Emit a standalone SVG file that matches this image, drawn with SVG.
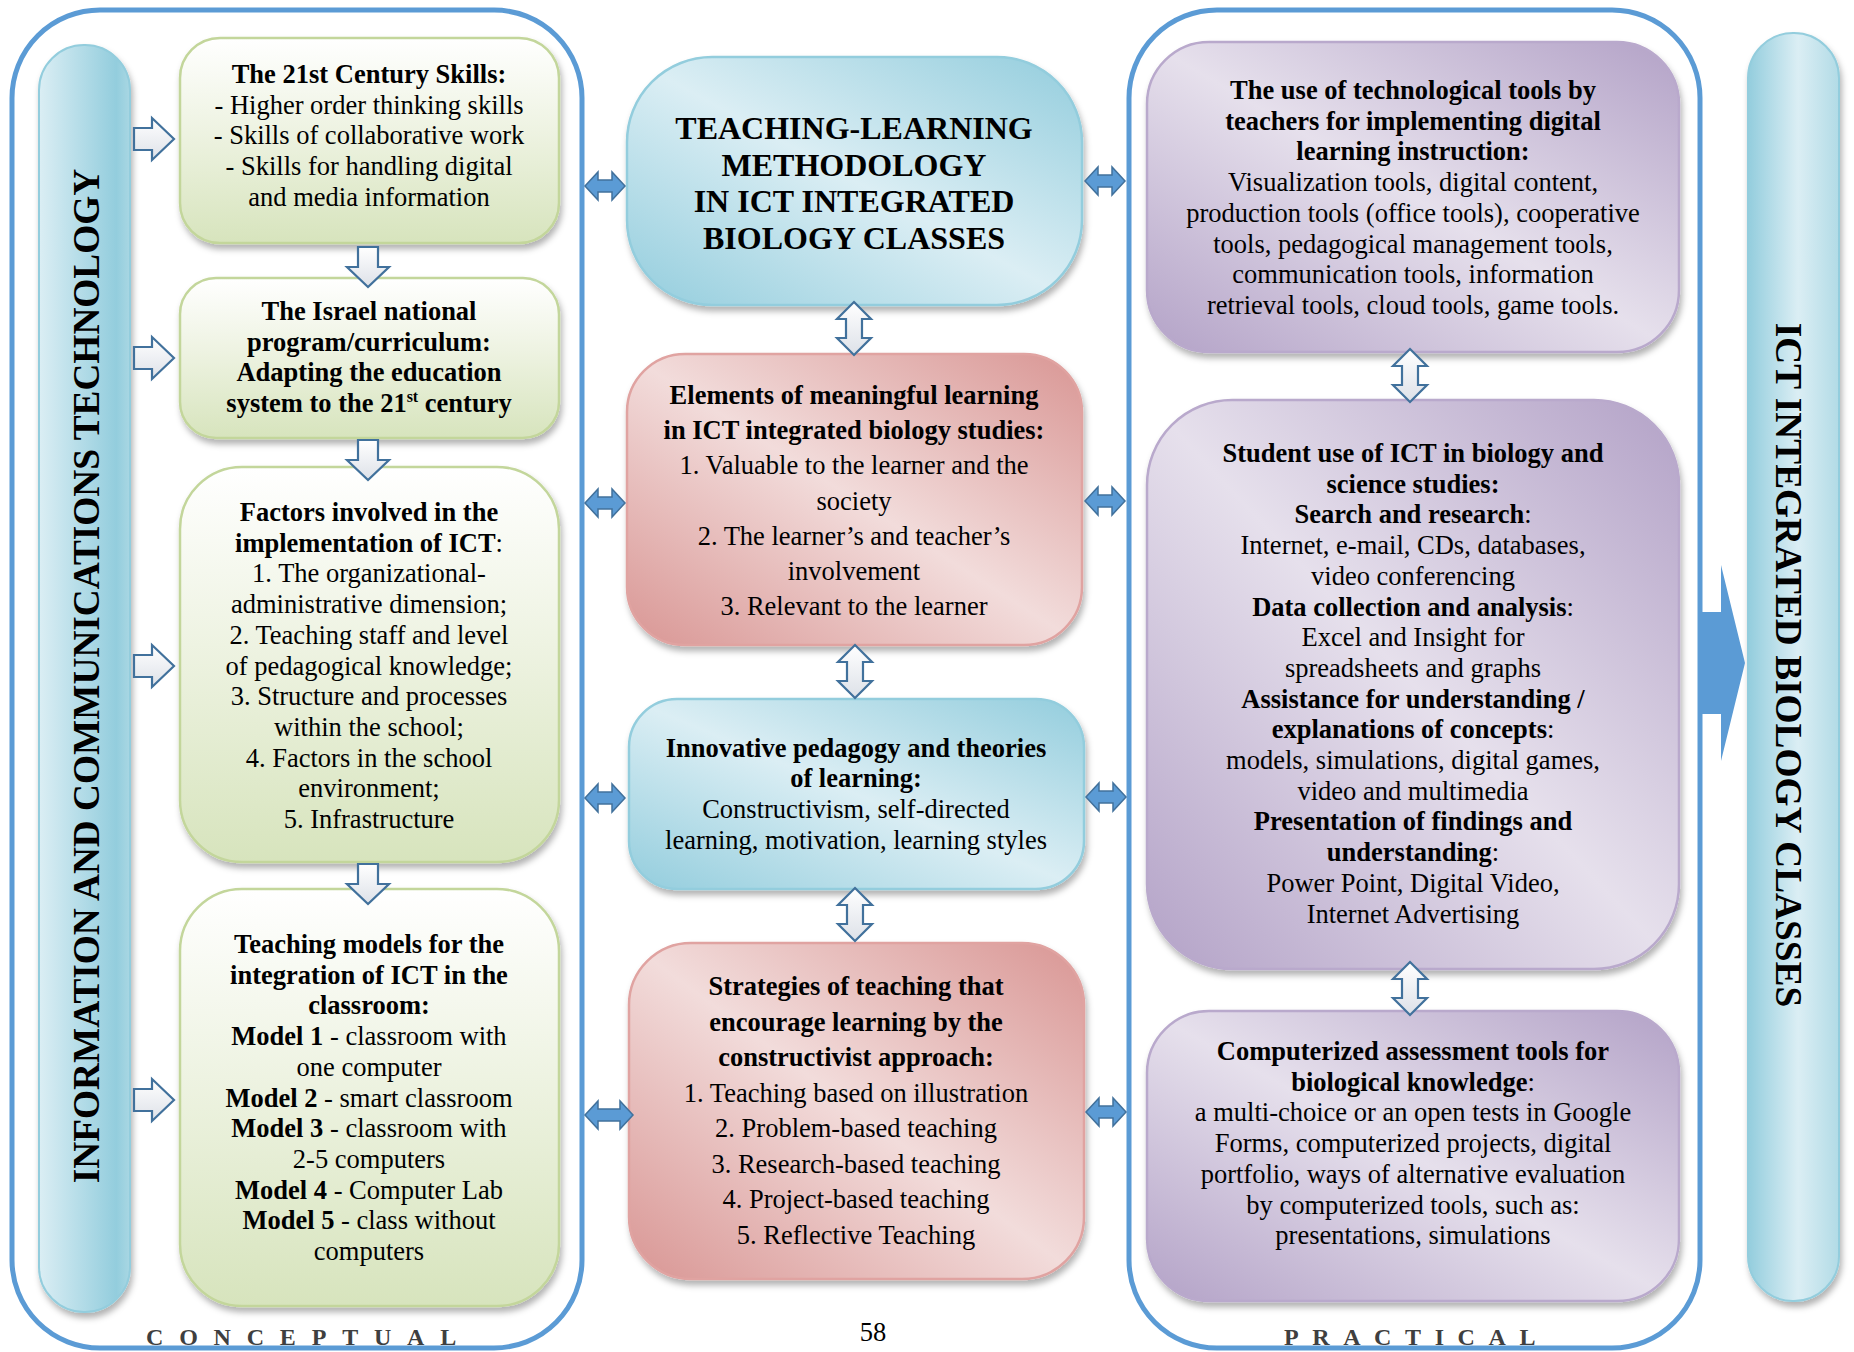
<svg xmlns="http://www.w3.org/2000/svg" width="1854" height="1352" viewBox="0 0 1854 1352">
<defs>
<style>
.t{font-family:'Liberation Serif','Times New Roman',serif;font-size:26.5px;fill:#000;text-anchor:middle}
.b{font-weight:bold}
.n{font-weight:normal}
.big{font-size:32px}
.vert{font-size:37.3px}
.sup{font-size:16px}
.cont{fill:none;stroke:#5b9bd5;stroke-width:5}
.green{fill:url(#gGreen);stroke:#c3d69b;stroke-width:2.5;filter:url(#sh)}
.blue{fill:url(#gBlue);stroke:#93cddd;stroke-width:2.5;filter:url(#sh)}
.red{fill:url(#gRed);stroke:#e0a3a1;stroke-width:2.5;filter:url(#sh)}
.purple{fill:url(#gPurple);stroke:#b9a9cc;stroke-width:2.5;filter:url(#sh)}
.hollow{fill:url(#gHollow);stroke:#41719c;stroke-width:2.2;stroke-linejoin:miter}
.solid{fill:#5b9bd5;stroke:#41719c;stroke-width:1.5}
.spaced{font-family:'Liberation Serif','Times New Roman',serif;font-size:24px;font-weight:bold;fill:#3f3f3f}
</style>
<filter id="sh" x="-10%" y="-10%" width="120%" height="125%">
<feDropShadow dx="2" dy="5" stdDeviation="3" flood-color="#000" flood-opacity="0.3"/>
</filter>
<linearGradient id="gGreen" x1="0" y1="0" x2="0" y2="1">
<stop offset="0" stop-color="#ffffff"/><stop offset="0.45" stop-color="#eef3e2"/><stop offset="1" stop-color="#d7e4bd"/>
</linearGradient>
<linearGradient id="gBlue" x1="1" y1="0" x2="0" y2="1">
<stop offset="0" stop-color="#93cddd"/><stop offset="0.5" stop-color="#dbeef4"/><stop offset="1" stop-color="#93cddd"/>
</linearGradient>
<linearGradient id="gRed" x1="1" y1="0" x2="0" y2="1">
<stop offset="0" stop-color="#d99694"/><stop offset="0.5" stop-color="#f2dcdb"/><stop offset="1" stop-color="#d99694"/>
</linearGradient>
<linearGradient id="gPurple" x1="1" y1="0" x2="0" y2="1">
<stop offset="0" stop-color="#b3a2c7"/><stop offset="0.5" stop-color="#e6e0ec"/><stop offset="1" stop-color="#b3a2c7"/>
</linearGradient>
<linearGradient id="gBarL" x1="0" y1="0" x2="1" y2="0">
<stop offset="0" stop-color="#dbeef4"/><stop offset="0.85" stop-color="#93cddd"/><stop offset="1" stop-color="#a9d7e3"/>
</linearGradient>
<linearGradient id="gBarR" x1="0" y1="0" x2="1" y2="0">
<stop offset="0" stop-color="#93cddd"/><stop offset="0.55" stop-color="#dbeef4"/><stop offset="1" stop-color="#b2dbe6"/>
</linearGradient>
<linearGradient id="gHollow" x1="0" y1="0" x2="0" y2="1">
<stop offset="0" stop-color="#ffffff"/><stop offset="1" stop-color="#dde1e8"/>
</linearGradient>
<polygon id="arrRight" points="0,-11 18,-11 18,-21 40,0 18,21 18,11 0,11"/>
<polygon id="arrDown" points="-10,0 10,0 10,20 21,20 0,40 -21,20 -10,20"/>
<polygon id="arrUpDown" points="0,0 17,17 8,17 8,36 17,36 0,53 -17,36 -8,36 -8,17 -17,17"/>
<polygon id="arrLR" points="0,0 13,-14 13,-6 27,-6 27,-14 40,0 27,14 27,6 13,6 13,14"/>
</defs>
<rect width="1854" height="1352" fill="#ffffff"/>

<g id="containers">
<rect id="conceptual-frame" class="cont" x="12" y="10" width="570" height="1338" rx="88"/>
<rect id="practical-frame" class="cont" x="1129" y="10" width="571" height="1338" rx="88"/>
<text class="spaced" x="146" y="1345" letter-spacing="15.8">CONCEPTUAL</text>
<text class="spaced" x="1284" y="1345" letter-spacing="13.6">PRACTICAL</text>
</g>

<g id="bar-ict">
<rect x="39" y="45" width="91" height="1267" rx="45" fill="url(#gBarL)" stroke="#93cddd" stroke-width="2" filter="url(#sh)"/>
<text class="t b vert" transform="translate(99,676) rotate(-90)" x="0" y="0">INFORMATION AND COMMUNICATIONS TECHNOLOGY</text>
</g>

<g id="bar-biology">
<rect x="1748" y="33" width="91" height="1268" rx="45" fill="url(#gBarR)" stroke="#93cddd" stroke-width="2" filter="url(#sh)"/>
<text class="t b vert" transform="translate(1776,665) rotate(90)" x="0" y="0">ICT INTEGRATED BIOLOGY CLASSES</text>
</g>

<g id="skills21">
<rect class="green" x="180" y="38" width="379" height="205" rx="40"/>
<text class="t b" x="369" y="83">The 21st Century Skills:</text>
<text class="t" x="369" y="113.7">- Higher order thinking skills</text>
<text class="t" x="369" y="144.4">- Skills of collaborative work</text>
<text class="t" x="369" y="175.1">- Skills for handling digital</text>
<text class="t" x="369" y="205.8">and media information</text>
</g>

<g id="israel-program">
<rect class="green" x="180" y="278" width="379" height="160" rx="36"/>
<text class="t b" x="369" y="320">The Israel national</text>
<text class="t b" x="369" y="350.7">program/curriculum:</text>
<text class="t b" x="369" y="381.4">Adapting the education</text>
<text class="t b" x="369" y="412.1">system to the 21<tspan class="sup" dy="-10">st</tspan><tspan dy="10"> century</tspan></text>
</g>

<g id="factors">
<rect class="green" x="180" y="467" width="379" height="395" rx="62"/>
<text class="t b" x="369" y="521">Factors involved in the</text>
<text class="t b" x="369" y="551.7">implementation of ICT<tspan class="n">:</tspan></text>
<text class="t" x="369" y="582.4">1. The organizational-</text>
<text class="t" x="369" y="613.1">administrative dimension;</text>
<text class="t" x="369" y="643.8">2. Teaching staff and level</text>
<text class="t" x="369" y="674.5">of pedagogical knowledge;</text>
<text class="t" x="369" y="705.2">3. Structure and processes</text>
<text class="t" x="369" y="735.9">within the school;</text>
<text class="t" x="369" y="766.6">4. Factors in the school</text>
<text class="t" x="369" y="797.3">environment;</text>
<text class="t" x="369" y="828">5. Infrastructure</text>
</g>

<g id="teaching-models">
<rect class="green" x="180" y="889" width="379" height="417" rx="62"/>
<text class="t b" x="369" y="953">Teaching models for the</text>
<text class="t b" x="369" y="983.7">integration of ICT in the</text>
<text class="t b" x="369" y="1014.4">classroom:</text>
<text class="t" x="369" y="1045.1"><tspan class="b">Model 1</tspan> - classroom with</text>
<text class="t" x="369" y="1075.8">one computer</text>
<text class="t" x="369" y="1106.5"><tspan class="b">Model 2</tspan> - smart classroom</text>
<text class="t" x="369" y="1137.2"><tspan class="b">Model 3</tspan> - classroom with</text>
<text class="t" x="369" y="1167.9">2-5 computers</text>
<text class="t" x="369" y="1198.6"><tspan class="b">Model 4</tspan> - Computer Lab</text>
<text class="t" x="369" y="1229.3"><tspan class="b">Model 5</tspan> - class without</text>
<text class="t" x="369" y="1260">computers</text>
</g>

<g id="methodology">
<rect class="blue" x="627" y="57" width="455" height="248" rx="85"/>
<text class="t b big" x="854" y="139">TEACHING-LEARNING</text>
<text class="t b big" x="854" y="175.7">METHODOLOGY</text>
<text class="t b big" x="854" y="212.4">IN ICT INTEGRATED</text>
<text class="t b big" x="854" y="249.1">BIOLOGY CLASSES</text>
</g>

<g id="meaningful-learning">
<rect class="red" x="627" y="354" width="455" height="291" rx="58"/>
<text class="t b" x="854" y="404">Elements of meaningful learning</text>
<text class="t b" x="854" y="439.2">in ICT integrated biology studies:</text>
<text class="t" x="854" y="474.4">1. Valuable to the learner and the</text>
<text class="t" x="854" y="509.6">society</text>
<text class="t" x="854" y="544.8">2. The learner’s and teacher’s</text>
<text class="t" x="854" y="580">involvement</text>
<text class="t" x="854" y="615.2">3. Relevant to the learner</text>
</g>

<g id="pedagogy">
<rect class="blue" x="629" y="699" width="455" height="190" rx="48"/>
<text class="t b" x="856" y="756.5">Innovative pedagogy and theories</text>
<text class="t b" x="856" y="787.2">of learning:</text>
<text class="t" x="856" y="817.9">Constructivism, self-directed</text>
<text class="t" x="856" y="848.6">learning, motivation, learning styles</text>
</g>

<g id="strategies">
<rect class="red" x="629" y="943" width="455" height="336" rx="62"/>
<text class="t b" x="856" y="995">Strategies of teaching that</text>
<text class="t b" x="856" y="1030.5">encourage learning by the</text>
<text class="t b" x="856" y="1066">constructivist approach:</text>
<text class="t" x="856" y="1101.5">1. Teaching based on illustration</text>
<text class="t" x="856" y="1137">2. Problem-based teaching</text>
<text class="t" x="856" y="1172.5">3. Research-based teaching</text>
<text class="t" x="856" y="1208">4. Project-based teaching</text>
<text class="t" x="856" y="1243.5">5. Reflective Teaching</text>
</g>

<g id="teacher-tools">
<rect class="purple" x="1147" y="42" width="532" height="310" rx="62"/>
<text class="t b" x="1413" y="99">The use of technological tools by</text>
<text class="t b" x="1413" y="129.7">teachers for implementing digital</text>
<text class="t b" x="1413" y="160.4">learning instruction:</text>
<text class="t" x="1413" y="191.1">Visualization tools, digital content,</text>
<text class="t" x="1413" y="221.8">production tools (office tools), cooperative</text>
<text class="t" x="1413" y="252.5">tools, pedagogical management tools,</text>
<text class="t" x="1413" y="283.2">communication tools, information</text>
<text class="t" x="1413" y="313.9">retrieval tools, cloud tools, game tools.</text>
</g>

<g id="student-use">
<rect class="purple" x="1147" y="400" width="532" height="569" rx="85"/>
<text class="t b" x="1413" y="462">Student use of ICT in biology and</text>
<text class="t b" x="1413" y="492.7">science studies:</text>
<text class="t b" x="1413" y="523.4">Search and research<tspan class="n">:</tspan></text>
<text class="t" x="1413" y="554.1">Internet, e-mail, CDs, databases,</text>
<text class="t" x="1413" y="584.8">video conferencing</text>
<text class="t b" x="1413" y="615.5">Data collection and analysis<tspan class="n">:</tspan></text>
<text class="t" x="1413" y="646.2">Excel and Insight for</text>
<text class="t" x="1413" y="676.9">spreadsheets and graphs</text>
<text class="t b" x="1413" y="707.6">Assistance for understanding /</text>
<text class="t b" x="1413" y="738.3">explanations of concepts<tspan class="n">:</tspan></text>
<text class="t" x="1413" y="769">models, simulations, digital games,</text>
<text class="t" x="1413" y="799.7">video and multimedia</text>
<text class="t b" x="1413" y="830.4">Presentation of findings and</text>
<text class="t b" x="1413" y="861.1">understanding<tspan class="n">:</tspan></text>
<text class="t" x="1413" y="891.8">Power Point, Digital Video,</text>
<text class="t" x="1413" y="922.5">Internet Advertising</text>
</g>

<g id="assessment">
<rect class="purple" x="1147" y="1011" width="532" height="290" rx="62"/>
<text class="t b" x="1413" y="1060">Computerized assessment tools for</text>
<text class="t b" x="1413" y="1090.7">biological knowledge<tspan class="n">:</tspan></text>
<text class="t" x="1413" y="1121.4">a multi-choice or an open tests in Google</text>
<text class="t" x="1413" y="1152.1">Forms, computerized projects, digital</text>
<text class="t" x="1413" y="1182.8">portfolio, ways of alternative evaluation</text>
<text class="t" x="1413" y="1213.5">by computerized tools, such as:</text>
<text class="t" x="1413" y="1244.2">presentations, simulations</text>
</g>

<g id="connectors">
<use href="#arrRight" class="hollow" x="134" y="139"/>
<use href="#arrRight" class="hollow" x="134" y="358"/>
<use href="#arrRight" class="hollow" x="134" y="666"/>
<use href="#arrRight" class="hollow" x="134" y="1100"/>
<use href="#arrDown" class="hollow" x="368" y="247"/>
<use href="#arrDown" class="hollow" x="368" y="440"/>
<use href="#arrDown" class="hollow" x="368" y="864"/>
<use href="#arrUpDown" class="hollow" x="854" y="302"/>
<use href="#arrUpDown" class="hollow" x="855" y="645"/>
<use href="#arrUpDown" class="hollow" x="855" y="888"/>
<use href="#arrUpDown" class="hollow" x="1410" y="349"/>
<use href="#arrUpDown" class="hollow" x="1410" y="962"/>
<use href="#arrLR" class="solid" x="585" y="186"/>
<use href="#arrLR" class="solid" x="585" y="503"/>
<use href="#arrLR" class="solid" x="585" y="798"/>
<polygon class="solid" points="585,1115 598,1101 598,1109 620,1109 620,1101 633,1115 620,1129 620,1121 598,1121 598,1129"/>
<use href="#arrLR" class="solid" x="1085" y="181"/>
<use href="#arrLR" class="solid" x="1085" y="501"/>
<use href="#arrLR" class="solid" x="1086" y="797"/>
<use href="#arrLR" class="solid" x="1086" y="1112"/>
<polygon fill="#5b9bd5" points="1699,612 1721,612 1721,565 1745,663 1721,761 1721,714 1699,714"/>
</g>

<text class="t" x="873" y="1341">58</text>
</svg>
